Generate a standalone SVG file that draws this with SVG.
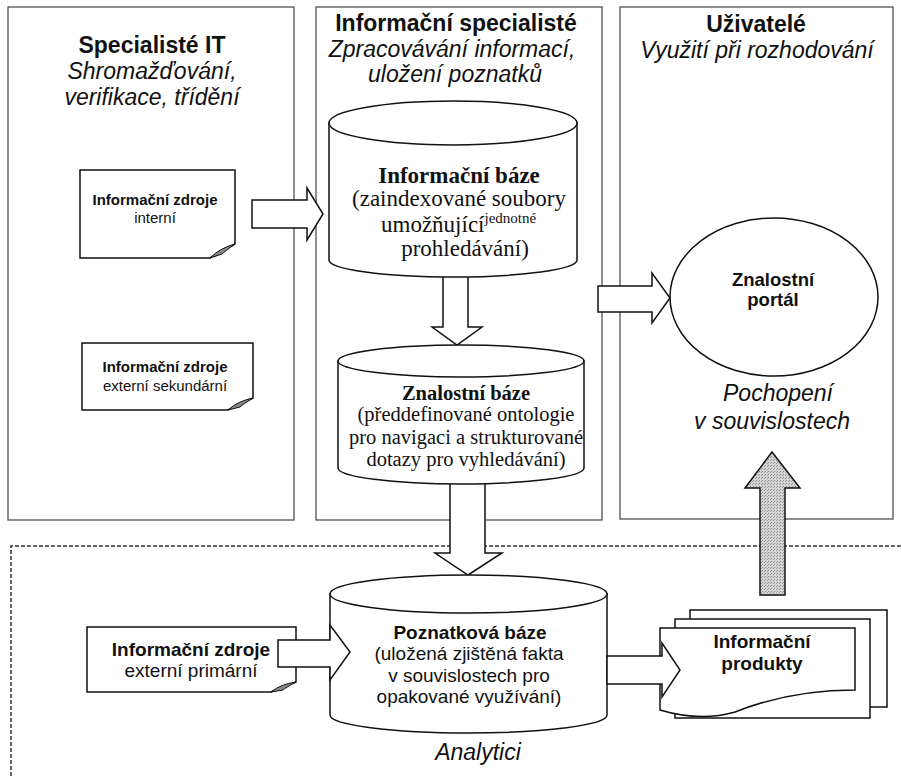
<svg xmlns="http://www.w3.org/2000/svg" width="901" height="776" viewBox="0 0 901 776">
<style>
.col{fill:none;stroke:#444;stroke-width:1.2}
.shp{fill:#fff;stroke:#111;stroke-width:1.5}
.arr{fill:#fff;stroke:#111;stroke-width:1.5;stroke-linejoin:miter}
.fold{fill:#888;stroke:#111;stroke-width:1}
.hb{font-family:"Liberation Sans",Arial,sans-serif;font-weight:bold;font-size:23px;fill:#111;text-anchor:middle}
.hi{font-family:"Liberation Sans",Arial,sans-serif;font-style:italic;font-size:23px;fill:#111;text-anchor:middle}
.sb{font-family:"Liberation Sans",Arial,sans-serif;font-weight:bold;fill:#111;text-anchor:middle}
.sr{font-family:"Liberation Sans",Arial,sans-serif;fill:#111;text-anchor:middle}
.tb{font-family:"Liberation Serif","Times New Roman",serif;font-weight:bold;fill:#111;text-anchor:middle}
.tr{font-family:"Liberation Serif","Times New Roman",serif;fill:#111;text-anchor:middle}
</style>
<defs>
<pattern id="dots" width="3" height="3" patternUnits="userSpaceOnUse">
<rect width="3" height="3" fill="#d4d4d4"/>
<rect x="0" y="0" width="1" height="1" fill="#888"/>
<rect x="2" y="1" width="1" height="1" fill="#999"/>
</pattern>
</defs>
<rect width="901" height="776" fill="#fff"/>

<g id="lanes">
<rect class="col" x="8" y="7" width="286" height="513"/>
<rect class="col" x="316" y="7" width="286" height="513"/>
<rect class="col" x="620" y="7" width="273" height="512"/>
<path d="M11,776 V546 H901" fill="none" stroke="#333" stroke-width="1.5" stroke-dasharray="4,2"/>
</g>

<g id="headers">
<text class="hb" x="152" y="53">Specialisté IT</text>
<text class="hi" x="152" y="79">Shromažďování,</text>
<text class="hi" x="152" y="105">verifikace, třídění</text>
<text class="hb" x="456" y="31">Informační specialisté</text>
<text class="hi" x="452" y="57">Zpracovávání informací,</text>
<text class="hi" x="455" y="82">uložení poznatků</text>
<text class="hb" x="756" y="32">Uživatelé</text>
<text class="hi" x="757" y="58">Využití při rozhodování</text>
</g>

<g id="connectors">
<polygon class="arr" points="450,470 485,470 485,553 502,553 468,575 435,553 450,553"/>
<polygon class="arr" points="443,265 468,265 468,327 482,327 457,345 432,327 443,327"/>
</g>

<g id="zdroje-interni">
<path class="shp" d="M80,170 H235 V244 L210,258 H80 Z"/>
<path class="fold" d="M210,258 Q220,248 235,244 Q224,252 222,254 Z"/>
<text class="sb" x="155" y="205" font-size="15">Informační zdroje</text>
<text class="sr" x="155" y="223" font-size="15">interní</text>
</g>

<g id="zdroje-externi-sekundarni">
<path class="shp" d="M82,343 H253 V398 L228,410 H82 Z"/>
<path class="fold" d="M228,410 Q238,401 253,398 Q242,405 240,407 Z"/>
<text class="sb" x="165" y="372" font-size="15">Informační zdroje</text>
<text class="sr" x="165" y="391" font-size="15">externí sekundární</text>
</g>

<g id="informacni-baze">
<path class="shp" d="M329,123 V260 A124,17 0 0 0 577,260 V123 Z"/>
<ellipse class="shp" cx="453" cy="123" rx="124" ry="22"/>
<text class="tb" x="459" y="183" font-size="23">Informační báze</text>
<text class="tr" x="459" y="206" font-size="23">(zaindexované soubory</text>
<text class="tr" x="381" y="232" font-size="23" style="text-anchor:start">umožňující<tspan font-size="15" dy="-9">jednotné</tspan></text>
<text class="tr" x="465" y="256" font-size="23">prohledávání)</text>
</g>

<g id="znalostni-baze">
<path class="shp" d="M338,361 V468 A123,16 0 0 0 584,468 V361 Z"/>
<ellipse class="shp" cx="461" cy="361" rx="123" ry="16"/>
<text class="tb" x="466" y="400" font-size="20.5">Znalostní báze</text>
<text class="tr" x="466" y="421" font-size="20.5">(předdefinované ontologie</text>
<text class="tr" x="466" y="444" font-size="20.5">pro navigaci a strukturované</text>
<text class="tr" x="466" y="466" font-size="20.5">dotazy pro vyhledávání)</text>
</g>

<g id="poznatkova-baze">
<path class="shp" d="M330,594 V715 A138.5,18 0 0 0 607,715 V594 Z"/>
<ellipse class="shp" cx="468.5" cy="594" rx="138.5" ry="19"/>
<text class="sb" x="470" y="639" font-size="19">Poznatková báze</text>
<text class="sr" x="469" y="660" font-size="19">(uložená zjištěná fakta</text>
<text class="sr" x="469" y="682" font-size="19">v souvislostech pro</text>
<text class="sr" x="469" y="703" font-size="19">opakované využívání)</text>
</g>

<g id="zdroje-externi-primarni">
<path class="shp" d="M87,627 H296 V682 L271,692 H87 Z"/>
<path class="fold" d="M271,692 Q281,684 296,682 Q285,688 283,690 Z"/>
<text class="sb" x="191" y="656" font-size="19">Informační zdroje</text>
<text class="sr" x="191" y="677" font-size="19">externí primární</text>
</g>

<g id="informacni-produkty">
<rect class="shp" x="690" y="610" width="197" height="97"/>
<rect class="shp" x="675" y="619" width="195" height="99"/>
<path class="shp" d="M660,628 H855 V690 Q790,690 735,712 Q700,722 660,710 Z"/>
<text class="sb" x="762" y="648" font-size="19">Informační</text>
<text class="sb" x="762" y="670" font-size="19">produkty</text>
</g>

<g id="znalostni-portal">
<ellipse class="shp" cx="774" cy="297" rx="104" ry="79"/>
<text class="sb" x="773" y="286" font-size="18.5">Znalostní</text>
<text class="sb" x="773" y="306" font-size="18.5">portál</text>
</g>

<g id="connectors-top">
<polygon class="arr" points="252,200 307,200 307,188 323,214 307,240 307,228 252,228"/>
<polygon class="arr" points="598,286 652,286 652,273 670,298 652,323 652,312 598,312"/>
<polygon class="arr" points="278,640 330,640 330,625 350,652 330,680 330,667 278,667"/>
<polygon class="arr" points="607,656 662,656 662,643 680,670 662,697 662,684 607,684"/>
<polygon points="760,595 785,595 785,488 800,488 772,452 745,488 760,488" fill="url(#dots)" stroke="#111" stroke-width="1.5"/>
</g>

<g id="labels">
<text class="hi" x="778" y="401" font-size="23.5">Pochopení</text>
<text class="hi" x="772" y="429" font-size="23.5">v souvislostech</text>
<text class="hi" x="478" y="760">Analytici</text>
</g>
</svg>
